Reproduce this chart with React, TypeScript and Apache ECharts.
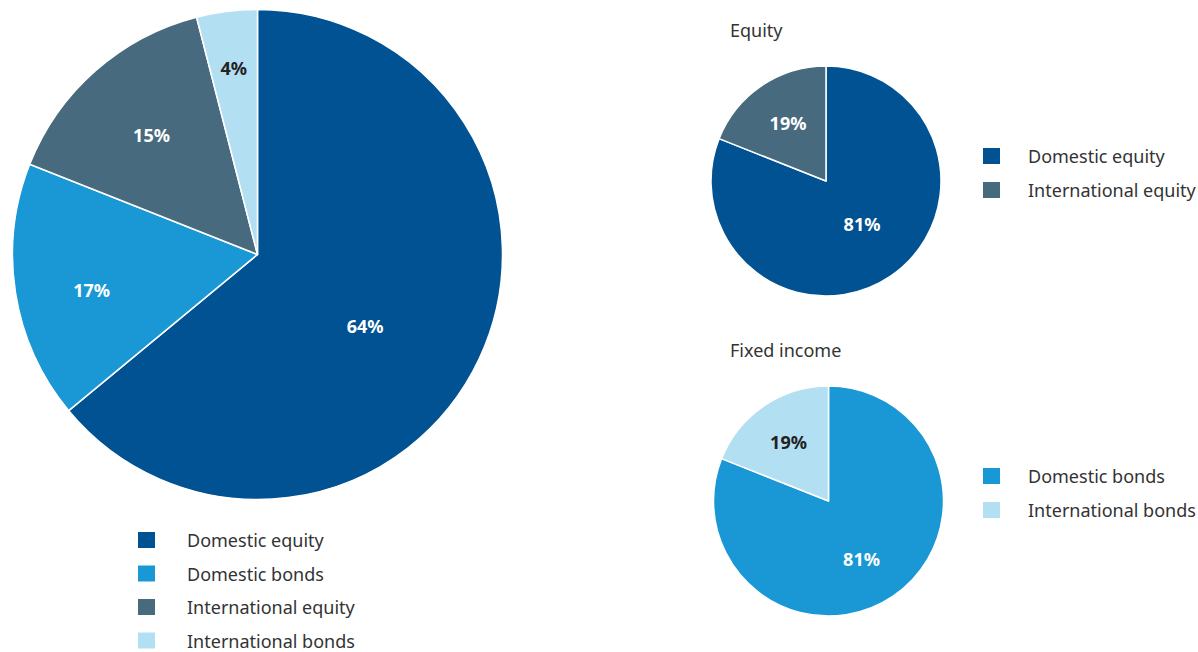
import React, { useEffect, useRef } from "react";
import * as echarts from "echarts";

const mainCategories = ["Domestic equity", "Domestic bonds", "International equity", "International bonds"];
const mainValues = [64, 17, 15, 4];
const equityCategories = ["Domestic equity", "International equity"];
const equityValues = [81, 19];
const fixedCategories = ["Domestic bonds", "International bonds"];
const fixedValues = [81, 19];

const colorMap: Record<string, string> = {
  "Domestic equity": "#005293",
  "Domestic bonds": "#1a98d5",
  "International equity": "#476a7e",
  "International bonds": "#b3dff3",
};
const darkLabel: Record<string, boolean> = { "International bonds": true };

const FONT = "'Noto Sans', 'Liberation Sans', Arial, sans-serif";

function buildData(cats: string[], vals: number[], offsets: number[][]) {
  return cats.map((name, i) => ({
    name,
    value: vals[i],
    itemStyle: { color: colorMap[name] },
    label: {
      color: darkLabel[name] ? "#222222" : "#ffffff",
      offset: offsets[i],
    },
  }));
}

export default function App() {
  const ref = useRef<HTMLDivElement>(null);
  useEffect(() => {
    if (!ref.current) return;
    const chart = echarts.init(ref.current, undefined, { renderer: "svg" });
    const pieBase = {
      type: "pie",
      startAngle: 90,
      clockwise: true,
      avoidLabelOverlap: false,
      labelLine: { show: false },
      itemStyle: { borderColor: "#ffffff", borderWidth: 1.5 },
      label: {
        show: true,
        position: "inside",
        formatter: "{c}%",
        fontFamily: FONT,
        fontSize: 18,
        fontWeight: "bold",
      },
      emphasis: { disabled: true },
      silent: true,
    };
    const legendBase = {
      orient: "vertical",
      icon: "rect",
      itemWidth: 17,
      itemHeight: 16,
      padding: 0,
      height: 200,
      selectedMode: false,
      itemStyle: { borderWidth: 0 },
      textStyle: {
        fontFamily: FONT,
        fontSize: 18,
        color: "#333333",
      },
    };
    chart.setOption({
      animation: false,
      backgroundColor: "#ffffff",
      title: [
        { text: "Equity", left: 730, top: 21, padding: 0, textStyle: { fontFamily: FONT, fontSize: 18, fontWeight: "normal", color: "#333333" } },
        { text: "Fixed income", left: 730, top: 341, padding: 0, textStyle: { fontFamily: FONT, fontSize: 18, fontWeight: "normal", color: "#333333" } },
      ],
      legend: [
        { ...legendBase, data: mainCategories, left: 138, top: 531, itemGap: 15.5, textStyle: { ...legendBase.textStyle, padding: [0, 0, 0, 27] } },
        { ...legendBase, data: equityCategories, left: 983, top: 147, itemGap: 16, textStyle: { ...legendBase.textStyle, padding: [0, 0, 0, 23] } },
        { ...legendBase, data: fixedCategories, left: 983, top: 467, itemGap: 16, textStyle: { ...legendBase.textStyle, padding: [0, 0, 0, 23] } },
      ],
      series: [
        {
          ...pieBase,
          name: "Total",
          center: [257.5, 254.5],
          radius: [0, 245],
          data: buildData(mainCategories, mainValues, [[-6, 18], [-42, 16], [-23, -25], [-8, -62]]),
        },
        {
          ...pieBase,
          name: "Equity",
          center: [826, 181],
          radius: [0, 115],
          data: buildData(equityCategories, equityValues, [[2, -7], [-4, -8]]),
        },
        {
          ...pieBase,
          name: "Fixed income",
          center: [828.5, 501],
          radius: [0, 115],
          data: buildData(fixedCategories, fixedValues, [[-1, 8], [-6, -9]]),
        },
      ],
    });
    return () => chart.dispose();
  }, []);
  return (
    <div
      ref={ref}
      style={{ position: "fixed", left: 0, top: 0, width: 1198, height: 652 }}
    />
  );
}
